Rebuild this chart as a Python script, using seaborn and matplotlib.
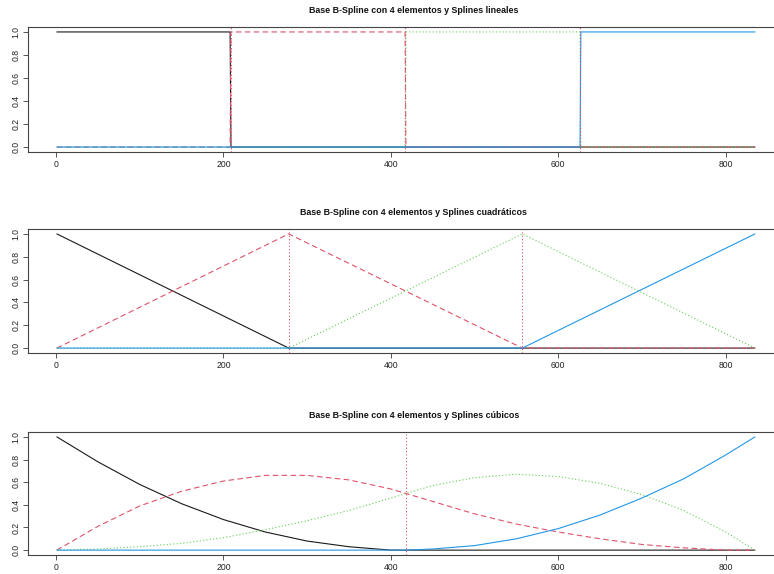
import matplotlib
matplotlib.use("Agg")
import matplotlib.pyplot as plt
import seaborn as sns

sns.set_style("white")
plt.rcParams["font.family"] = ["Liberation Sans", "DejaVu Sans"]

# ---- data -----------------------------------------------------------------
titles = [
    "Base B-Spline con 4 elementos y Splines lineales",
    "Base B-Spline con 4 elementos y Splines cuadráticos",
    "Base B-Spline con 4 elementos y Splines cúbicos",
]

# panel 1: piecewise constant basis (step breakpoints)
step_x = [1, 208, 209, 417, 418, 626, 627, 835]
step_b1 = [1, 1, 0, 0, 0, 0, 0, 0]
step_b2 = [0, 0, 1, 1, 0, 0, 0, 0]
step_b3 = [0, 0, 0, 0, 1, 1, 0, 0]
step_b4 = [0, 0, 0, 0, 0, 0, 1, 1]
step_knots = [208.5, 417.5, 626.5]

# panel 2: piecewise linear (hat) basis
lin_x = [1, 278, 557, 835]
lin_b1 = [1, 0, 0, 0]
lin_b2 = [0, 1, 0, 0]
lin_b3 = [0, 0, 1, 0]
lin_b4 = [0, 0, 0, 1]
lin_knots = [278, 557]

# panel 3: smooth basis, values read along x
quad_x = [1, 50, 100, 150, 200, 250, 300, 350, 400, 418,
          450, 500, 550, 600, 650, 700, 750, 800, 835]
quad_b1 = [1.00, 0.78, 0.58, 0.41, 0.27, 0.16, 0.08, 0.03, 0.00, 0.00,
           0.00, 0.00, 0.00, 0.00, 0.00, 0.00, 0.00, 0.00, 0.00]
quad_b2 = [0.00, 0.21, 0.39, 0.52, 0.61, 0.66, 0.66, 0.62, 0.54, 0.50,
           0.43, 0.32, 0.23, 0.16, 0.10, 0.05, 0.02, 0.00, 0.00]
quad_b3 = [0.00, 0.01, 0.03, 0.06, 0.11, 0.18, 0.26, 0.35, 0.46, 0.50,
           0.57, 0.64, 0.67, 0.65, 0.59, 0.49, 0.35, 0.16, 0.00]
quad_b4 = [0.00, 0.00, 0.00, 0.00, 0.00, 0.00, 0.00, 0.00, 0.00, 0.00,
           0.01, 0.04, 0.10, 0.19, 0.31, 0.46, 0.63, 0.84, 1.00]
quad_knots = [418]

x_ticks = [0, 200, 400, 600, 800]
y_ticks = [0.0, 0.2, 0.4, 0.6, 0.8, 1.0]

# ---- styles ---------------------------------------------------------------
colors = ["#1a1a1a", "#DF536B", "#61D04F", "#2297E6"]
styles = [dict(linestyle="-"),
          dict(dashes=(5, 3)),
          dict(dashes=(1, 2)),
          dict(linestyle="-")]

panels = [
    (step_x, [step_b1, step_b2, step_b3, step_b4], step_knots),
    (lin_x, [lin_b1, lin_b2, lin_b3, lin_b4], lin_knots),
    (quad_x, [quad_b1, quad_b2, quad_b3, quad_b4], quad_knots),
]

W, H = 774, 574
fig = plt.figure(figsize=(W / 100, H / 100), dpi=100)

# axes boxes in pixels: (left, right, top, bottom); the right edge lies past the canvas
PX_PER_UNIT = 0.8371
LEFT_PX, RIGHT_PX = 27.5, 800
boxes = [(LEFT_PX, RIGHT_PX, 27, 152),
         (LEFT_PX, RIGHT_PX, 229, 353),
         (LEFT_PX, RIGHT_PX, 432, 555)]
x_min = (LEFT_PX - 56) / PX_PER_UNIT
x_max = x_min + (RIGHT_PX - LEFT_PX) / PX_PER_UNIT

for (xs, series, knots), title, (l, r, t, b) in zip(panels, titles, boxes):
    ax = fig.add_axes([l / W, 1 - b / H, (r - l) / W, (b - t) / H])
    for ys, c, st in zip(series, colors, styles):
        sns.lineplot(x=xs, y=ys, ax=ax, color=c, linewidth=0.8,
                     estimator=None, sort=False, **st)
    for k in knots:
        ax.axvline(k, color="#DF536B", linewidth=0.8, dashes=(1, 2))
    ax.set_xlim(x_min, x_max)
    ax.set_ylim(-0.043, 1.043)
    ax.set_xticks(x_ticks)
    ax.set_xticklabels([str(v) for v in x_ticks])
    ax.set_yticks(y_ticks)
    ax.set_yticklabels([f"{v:.1f}" for v in y_ticks], rotation=90, va="center")
    ax.tick_params(axis="both", direction="out", length=3.5, width=0.7,
                   color="#555555", labelsize=6.2, labelcolor="#222222",
                   bottom=True, left=True)
    ax.tick_params(axis="x", pad=2.5)
    ax.tick_params(axis="y", pad=1.5)
    for s in ax.spines.values():
        s.set_color("#444444")
        s.set_linewidth(0.8)
    ax.spines["right"].set_visible(False)
    ax.set_title(title, fontsize=6.4, fontweight="bold", pad=10, color="#111111")

fig.savefig("out.png", dpi=100)
